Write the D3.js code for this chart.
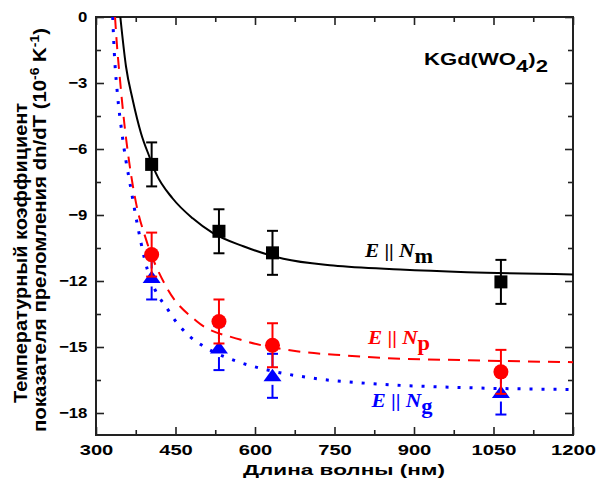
<!DOCTYPE html>
<html>
<head>
<meta charset="utf-8">
<script src="https://cdn.jsdelivr.net/npm/d3@7"></script>
<style>
  body { margin: 0; background: #fff; }
  svg { display: block; }
  .sans { font-family: "Liberation Sans", Arial, sans-serif; font-weight: bold; }
  .serif { font-family: "Liberation Serif", "Times New Roman", serif; font-weight: bold; }
</style>
</head>
<body>
<div id="chart"></div>
<script>
// measured points: wavelength (nm) and dn/dT (1e-6 K^-1)
const wavelengths = [405, 532, 633, 1064];
const dnNm = [-6.7, -9.74, -10.72, -12.04];
const dnNp = [-10.8, -13.84, -14.92, -16.13];
const dnNg = [-11.84, -15.05, -16.31, -17.07];
const errNm = [1, 1, 1, 1];
const errNp = [1, 1, 1, 1];
const errNg = [1, 1, 1, 1];

// fit curves
const fitNmWl = [345.9, 356.6, 369.2, 384.9, 400.6, 413, 444.7, 482.4, 520, 578, 653.5, 747.8, 873.7, 1000, 1200];
const fitNmDn = [0, -2.25, -3.76, -5.28, -6.34, -7.1, -8.25, -9.15, -9.81, -10.42, -10.99, -11.3, -11.48, -11.6, -11.7];
const fitNpWl = [335.9, 339, 345.3, 353.4, 362.9, 375.5, 394.4, 432, 490, 571.7, 678.7, 773, 836, 1000, 1200];
const fitNpDn = [0, -1.11, -2.86, -4.83, -6.64, -8.45, -10.11, -12.24, -13.83, -14.66, -15.19, -15.39, -15.49, -15.6, -15.69];
const fitNgWl = [331.5, 334.6, 340.9, 349, 356.6, 362.9, 378.6, 391.2, 439.6, 476, 502.5, 565.5, 615.7, 710, 817, 1000, 1200];
const fitNgDn = [0, -1.64, -3.61, -5.28, -6.55, -7.4, -9.5, -10.95, -13.45, -14.5, -14.96, -15.65, -16.0, -16.42, -16.66, -16.85, -16.93];

const xTicks = [300, 450, 600, 750, 900, 1050, 1200];
const xMinor = [375, 525, 675, 825, 975, 1125];
const yTicks = [0, -3, -6, -9, -12, -15, -18];
const yMinor = [-1.5, -4.5, -7.5, -10.5, -13.5, -16.5];

const W = 597, H = 484;
const mLeft = 96, mRight = 573, mTop = 17, mBottom = 435;

const svg = d3.select("#chart").append("svg").attr("width", W).attr("height", H);

const x = d3.scaleLinear().domain([300, 1200]).range([mLeft, mRight]);
const y = d3.scaleLinear().domain([-19, 0]).range([mBottom, mTop]);

svg.append("clipPath").attr("id", "clip")
  .append("rect").attr("x", mLeft).attr("y", mTop).attr("width", mRight - mLeft).attr("height", mBottom - mTop);

// axes, ticks inward on all four sides
const axColor = "#222";
function styleAxis(g) {
  g.select(".domain").remove();
  g.selectAll(".tick line").attr("stroke", axColor).attr("stroke-width", 1.6);
}

svg.append("g").attr("transform", `translate(0,${mBottom})`)
  .call(d3.axisBottom(x).tickValues(xTicks).tickSize(-8).tickPadding(9).tickFormat(d3.format("d")))
  .call(styleAxis)
  .call(g => g.selectAll("text").attr("class", "sans").attr("font-size", 15.5).attr("fill", "#000")
    .attr("transform", "scale(1.3,1)"));
svg.append("g").attr("transform", `translate(0,${mBottom})`)
  .call(d3.axisBottom(x).tickValues(xMinor).tickSize(-5).tickFormat(""))
  .call(styleAxis);
svg.append("g").attr("transform", `translate(0,${mTop})`)
  .call(d3.axisTop(x).tickValues(xTicks).tickSize(-8).tickFormat(""))
  .call(styleAxis);
svg.append("g").attr("transform", `translate(0,${mTop})`)
  .call(d3.axisTop(x).tickValues(xMinor).tickSize(-5).tickFormat(""))
  .call(styleAxis);

svg.append("g").attr("transform", `translate(${mLeft},0)`)
  .call(d3.axisLeft(y).tickValues(yTicks).tickSize(-8).tickPadding(8).tickFormat(d3.format("d")))
  .call(styleAxis)
  .call(g => g.selectAll("text").attr("class", "sans").attr("font-size", 15.5).attr("fill", "#000")
    .attr("transform", "scale(1.08,1)"));
svg.append("g").attr("transform", `translate(${mLeft},0)`)
  .call(d3.axisLeft(y).tickValues(yMinor).tickSize(-5).tickFormat(""))
  .call(styleAxis);
svg.append("g").attr("transform", `translate(${mRight},0)`)
  .call(d3.axisRight(y).tickValues(yTicks).tickSize(-8).tickFormat(""))
  .call(styleAxis);
svg.append("g").attr("transform", `translate(${mRight},0)`)
  .call(d3.axisRight(y).tickValues(yMinor).tickSize(-5).tickFormat(""))
  .call(styleAxis);

svg.append("rect").attr("x", mLeft).attr("y", mTop).attr("width", mRight - mLeft).attr("height", mBottom - mTop)
  .attr("fill", "none").attr("stroke", axColor).attr("stroke-width", 2);

const plot = svg.append("g").attr("clip-path", "url(#clip)");
const line = d3.line().x(d => x(d[0])).y(d => y(d[1])).curve(d3.curveMonotoneX);

function drawSeries(vals, errs, fitWl, fitDn, color, marker, dash, gap) {
  const g = plot.append("g");
  const pts = wavelengths.map((w, i) => ({ w, v: vals[i], e: errs[i] }));
  // error bars
  pts.forEach(p => {
    const cx = x(p.w), cy = y(p.v), yt = y(p.v + p.e), yb = y(p.v - p.e);
    g.append("line").attr("x1", cx).attr("x2", cx).attr("y1", yt).attr("y2", cy - gap)
      .attr("stroke", color).attr("stroke-width", 2);
    g.append("line").attr("x1", cx).attr("x2", cx).attr("y1", cy + gap).attr("y2", yb)
      .attr("stroke", color).attr("stroke-width", 2);
    [yt, yb].forEach(yy => g.append("line").attr("x1", cx - 5.5).attr("x2", cx + 5.5)
      .attr("y1", yy).attr("y2", yy).attr("stroke", color).attr("stroke-width", 2));
  });
  g.append("path").datum(fitWl.map((w, i) => [w, fitDn[i]]))
    .attr("d", line).attr("fill", "none").attr("stroke", color).attr("stroke-width", dash === "dot" ? 3 : 2)
    .attr("stroke-dasharray", dash === "dash" ? "12 8" : dash === "dot" ? "3 9" : null);
  pts.forEach(p => {
    const cx = x(p.w), cy = y(p.v);
    if (marker === "square") {
      g.append("rect").attr("x", cx - 6.5).attr("y", cy - 6.5).attr("width", 13).attr("height", 13).attr("fill", color);
    } else if (marker === "circle") {
      g.append("circle").attr("cx", cx).attr("cy", cy).attr("r", 7.5).attr("fill", color);
    } else {
      g.append("path").attr("d", `M${cx},${cy - 7}L${cx + 9},${cy + 5.5}L${cx - 9},${cy + 5.5}Z`).attr("fill", color);
    }
  });
}

drawSeries(dnNg, errNg, fitNgWl, fitNgDn, "#0000ff", "triangle", "dot", 9);
drawSeries(dnNp, errNp, fitNpWl, fitNpDn, "#ff0000", "circle", "dash", 0);
drawSeries(dnNm, errNm, fitNmWl, fitNmDn, "#000000", "square", null, 0);

// series labels
function polLabel(px, py, sub, color, len) {
  const t = svg.append("text").attr("class", "serif").attr("x", px).attr("y", py)
    .attr("font-size", 19).attr("fill", color).attr("textLength", len).attr("lengthAdjust", "spacingAndGlyphs");
  t.append("tspan").attr("font-style", "italic").text("E");
  t.append("tspan").text(" || ");
  t.append("tspan").attr("font-style", "italic").text("N");
  t.append("tspan").attr("dy", 6).attr("font-size", 20).text(sub);
}
polLabel(365, 257, "m", "#000", 68);
polLabel(368, 344, "p", "#ff0000", 62);
polLabel(371.5, 407, "g", "#0000ff", 61);

// crystal name
const kg = svg.append("text").attr("class", "sans").attr("x", 424).attr("y", 65).attr("font-size", 17)
  .attr("textLength", 124).attr("lengthAdjust", "spacingAndGlyphs");
kg.append("tspan").text("KGd(WO");
kg.append("tspan").attr("dy", 7).text("4");
kg.append("tspan").attr("dy", -7).text(")");
kg.append("tspan").attr("dy", 7).text("2");

// axis titles
svg.append("text").attr("class", "sans").attr("x", 344).attr("y", 474.5).attr("font-size", 15.5)
  .attr("text-anchor", "middle").attr("textLength", 202).attr("lengthAdjust", "spacingAndGlyphs")
  .text("Длина волны (нм)");

svg.append("text").attr("class", "sans").attr("font-size", 19).attr("text-anchor", "middle")
  .attr("transform", "translate(27,253) rotate(-90)")
  .attr("textLength", 300).attr("lengthAdjust", "spacingAndGlyphs")
  .text("Температурный коэффициент");

const yt2 = svg.append("text").attr("class", "sans").attr("font-size", 19).attr("text-anchor", "middle")
  .attr("transform", "translate(46,230) rotate(-90)")
  .attr("textLength", 404).attr("lengthAdjust", "spacingAndGlyphs");
yt2.append("tspan").text("показателя преломления dn/dT (10");
yt2.append("tspan").attr("dy", -7).attr("font-size", 13).text("-6");
yt2.append("tspan").attr("dy", 7).text(" K");
yt2.append("tspan").attr("dy", -7).attr("font-size", 13).text("-1");
yt2.append("tspan").attr("dy", 7).text(")");
</script>
</body>
</html>
